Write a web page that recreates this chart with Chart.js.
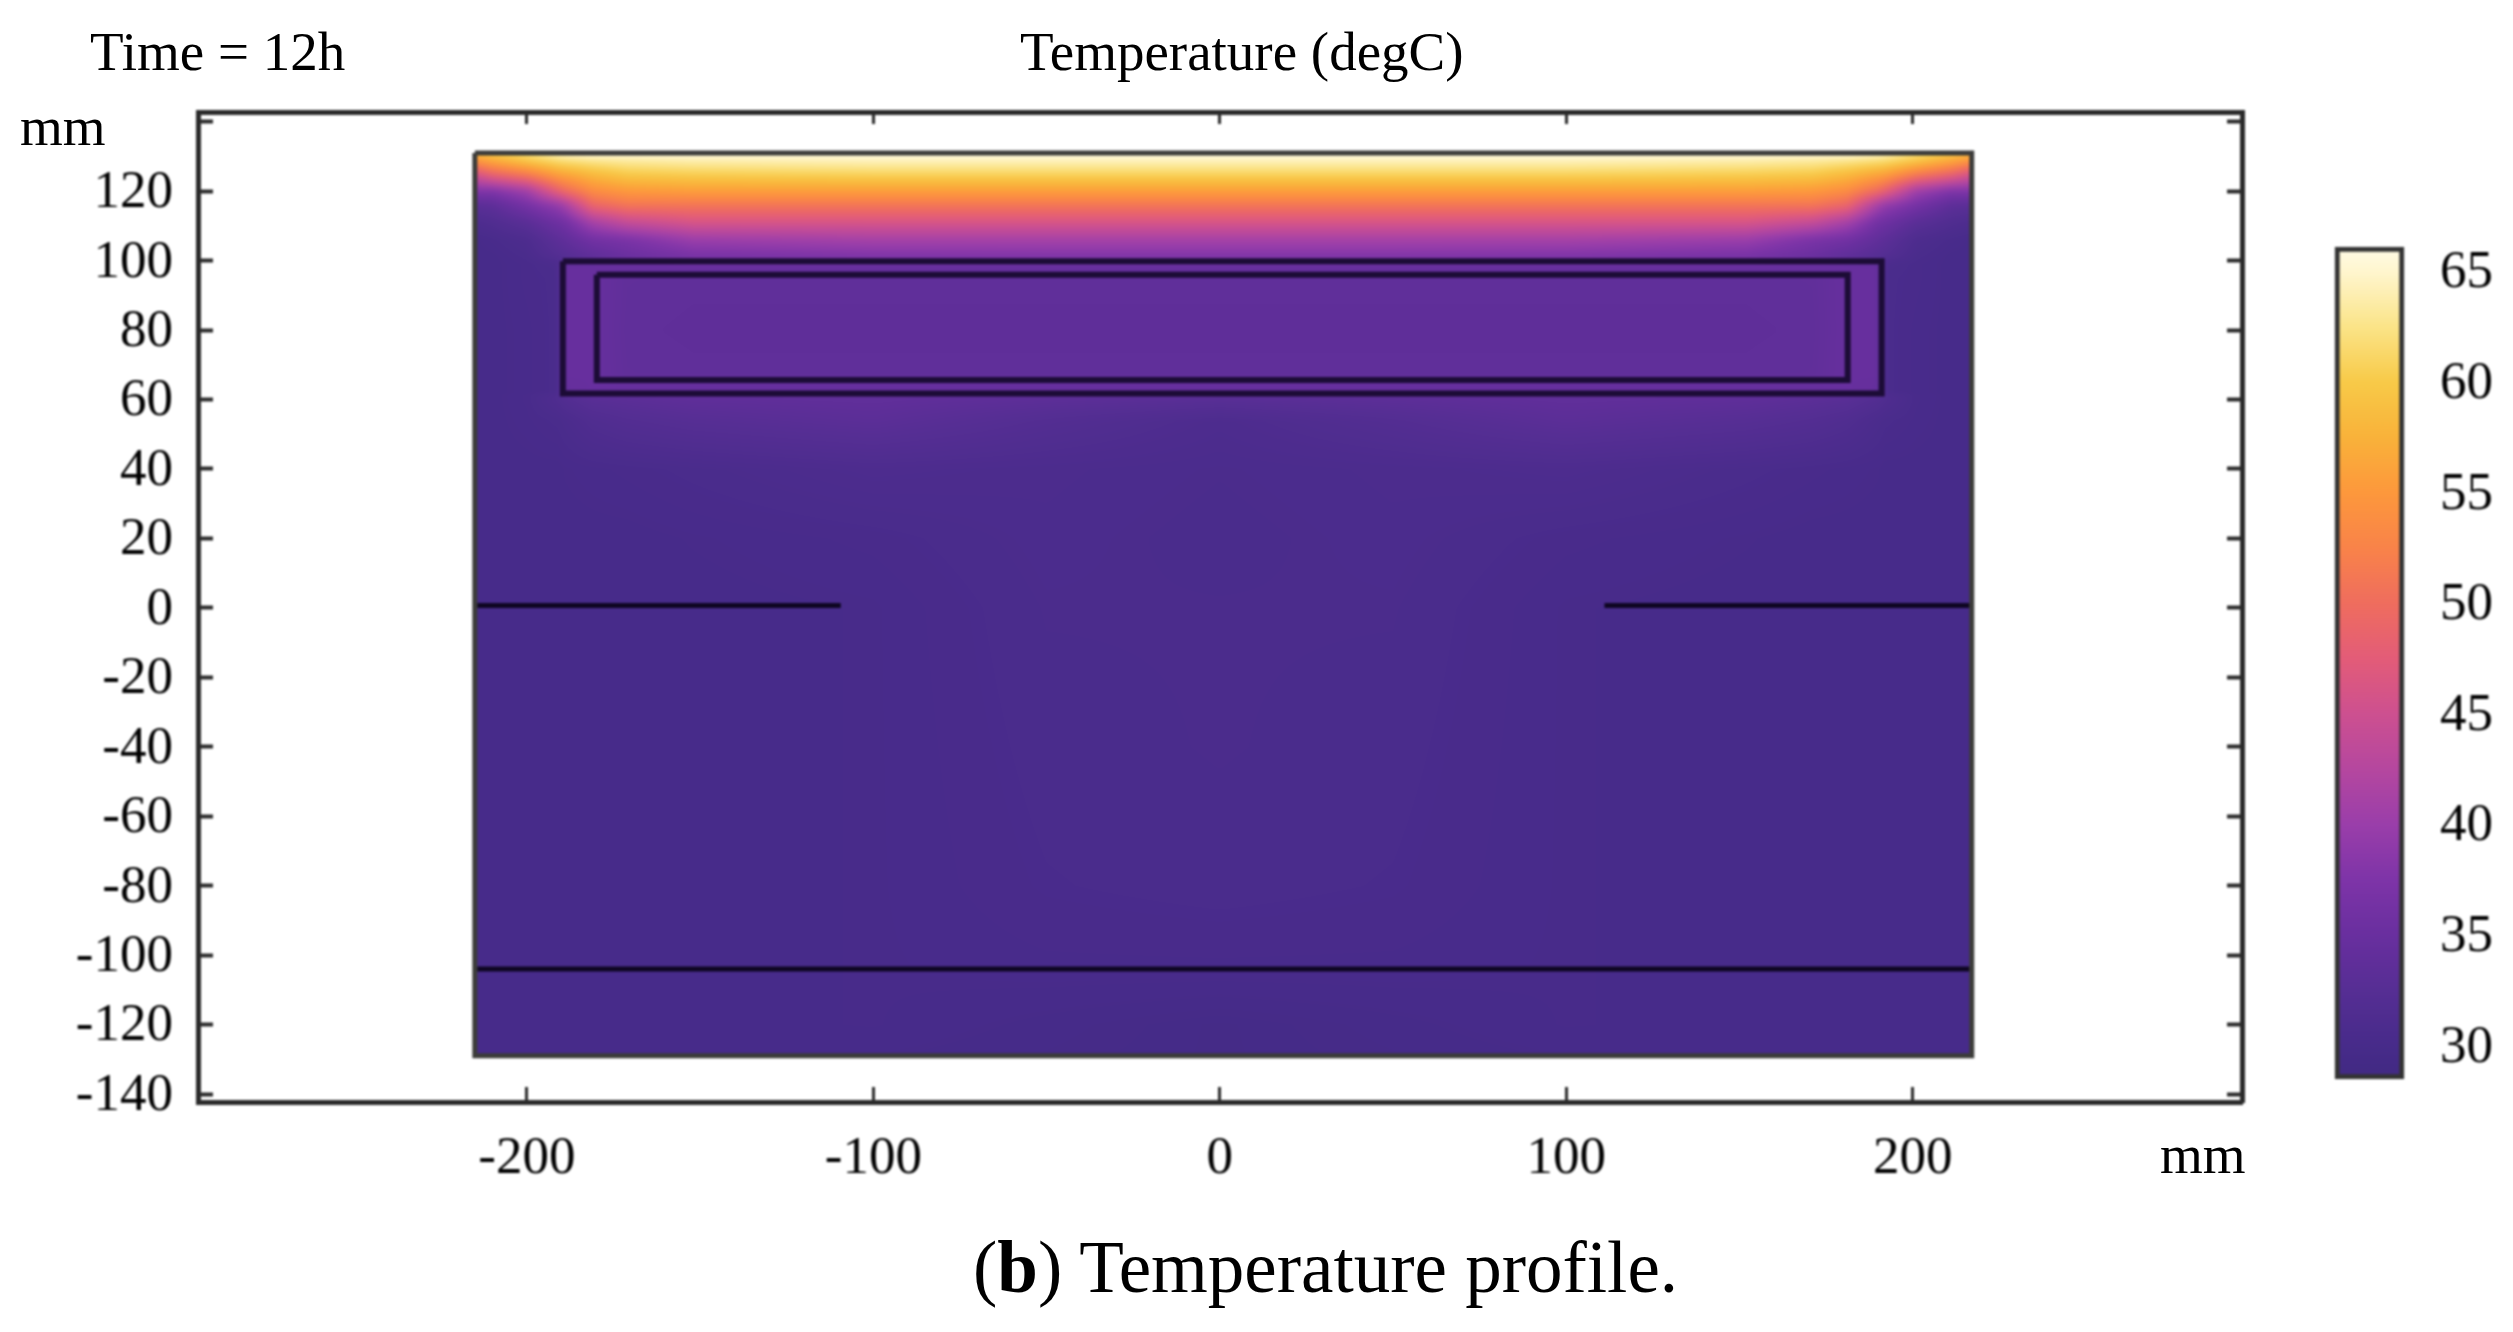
<!DOCTYPE html>
<html>
<head>
<meta charset="utf-8">
<title>Temperature profile</title>
<script src="https://cdn.jsdelivr.net/npm/chart.js@4"></script>
<style>
  html, body { margin: 0; background: #fff; }
  body { position: relative; width: 2513px; height: 1332px; overflow: hidden; font-family: "Liberation Serif", serif; color: #000; }
  canvas { position: absolute; filter: blur(0.9px); }
  #main { left: 0; top: 0; }
  #bar { left: 2300px; top: 200px; }
  .txt { position: absolute; white-space: nowrap; font-size: 55px; line-height: 60px; filter: blur(0.5px); }
</style>
</head>
<body>
<canvas id="main" width="2513" height="1332"></canvas>
<canvas id="bar" width="213" height="920"></canvas>
<div class="txt" style="left:90px;top:22px">Time = 12h</div>
<div class="txt" style="left:1020px;top:22px">Temperature (degC)</div>
<div class="txt" style="left:20px;top:97px">mm</div>
<div class="txt" style="left:2160px;top:1125px">mm</div>
<div class="txt" style="left:973px;top:1223px;font-size:73px;line-height:90px">(<b>b</b>) Temperature profile.</div>
<script>
// axis ticks (mm)
let xTicks = [-200, -100, 0, 100, 200]
let yTicks = [-140, -120, -100, -80, -60, -40, -20, 0, 20, 40, 60, 80, 100, 120, 140]
let barTicks = [30, 35, 40, 45, 50, 55, 60, 65]

// geometry lines, mm
let domainOutline = [{x:-215,y:131},{x:217,y:131},{x:217,y:-129},{x:-215,y:-129},{x:-215,y:131}]
let outerBox = [{x:-189.6,y:99.8},{x:191,y:99.8},{x:191,y:61.7},{x:-189.6,y:61.7},{x:-189.6,y:99.8}]
let innerBox = [{x:-179.8,y:95.9},{x:181.2,y:95.9},{x:181.2,y:65.6},{x:-179.8,y:65.6},{x:-179.8,y:95.9}]
let leftShelf = [{x:-215,y:0.7},{x:-109.4,y:0.7}]
let rightShelf = [{x:111,y:0.7},{x:217,y:0.7}]
let baseLine = [{x:-215,y:-104},{x:217,y:-104}]

// colour bar stops: degC, colour
let cmapValues = [28.5, 30, 32.5, 35, 37.5, 40, 42.5, 45, 47.5, 50, 52.5, 55, 57.5, 60, 62.5, 65, 66.1]
let cmapColors = ['#412a82','#472b8a','#562e94','#692f9f','#7e34a8','#9a3eaa','#b5479f','#cd5090','#e35c78','#ef6d5e','#f98349','#fd983c','#f9b23a','#f8ca48','#fbe488','#fff6cf','#fffbe6']

// temperature, degC. one row per gridY, one value per gridX
let gridX = [-215, -210, -200, -191, -189, -181, -171, -152, -100, -50, 0, 50, 100, 152, 171, 181, 190, 192, 201, 211, 217]
let gridY = [131, 129, 125, 120, 116, 111, 106, 101, 100, 99, 97, 95, 80, 67, 64, 62, 61, 54, 40, 20, 0, -40, -80, -105, -120, -129]
let tempRows = [
  [58, 60, 62, 64.5, 65, 66, 66, 66, 66, 66, 66, 66, 66, 66, 66, 66, 65, 64.5, 62, 60, 58],
  [55, 57, 60, 62, 62.3, 63, 63.5, 64, 64.5, 64.5, 64.5, 64.5, 64.5, 64, 63.5, 63, 62.3, 62, 60, 57, 55],
  [46, 49, 52, 56, 56.5, 58.5, 60, 60.5, 61, 61, 61, 61, 61, 60.5, 60, 58.5, 56.5, 56, 52, 49, 46],
  [37.5, 37.5, 40.5, 48, 49.5, 53.5, 55, 55.5, 55.5, 55.5, 55.5, 55.5, 55.5, 55.5, 55, 53.5, 49.5, 48, 40.5, 37.5, 37.5],
  [33, 33.5, 36.5, 39.5, 41, 49, 51, 51, 51, 51, 51, 51, 51, 51, 51, 49, 41, 39.5, 36.5, 33.5, 33],
  [31, 31.5, 33, 35.5, 36, 41, 44, 46, 46, 46, 46, 46, 46, 46, 44, 41, 36, 35.5, 33, 31.5, 31],
  [30, 30.3, 31, 33.3, 33.8, 36, 37, 40, 41, 41, 41, 41, 41, 40, 37, 36, 33.8, 33.3, 31, 30.3, 30],
  [30, 30, 30.5, 32, 32.3, 33.5, 35, 36.5, 37.3, 37.5, 37.5, 37.5, 37.3, 36.5, 35, 33.5, 32.3, 32, 30.5, 30, 30],
  [30, 30, 30.4, 31, 31.5, 33.5, 35, 36.5, 37, 37, 37, 37, 37, 36.5, 35, 33.5, 31.5, 31, 30.4, 30, 30],
  [30, 30, 30.3, 30.8, 34.7, 34.8, 34.8, 34.8, 34.8, 34.8, 34.8, 34.8, 34.8, 34.8, 34.8, 34.8, 34.7, 30.8, 30.3, 30, 30],
  [30, 30, 30.3, 30.6, 34.7, 34.8, 34.8, 34.8, 34.8, 34.8, 34.8, 34.8, 34.8, 34.8, 34.8, 34.8, 34.7, 30.6, 30.3, 30, 30],
  [30, 30, 30.3, 30.5, 34.7, 34.7, 33.9, 33.8, 33.8, 33.8, 33.8, 33.8, 33.8, 33.8, 33.9, 34.7, 34.7, 30.5, 30.3, 30, 30],
  [30, 30, 30.2, 30.5, 34.7, 34.7, 33.8, 33.7, 33.7, 33.7, 33.7, 33.7, 33.7, 33.7, 33.8, 34.7, 34.7, 30.5, 30.2, 30, 30],
  [30, 30, 30.2, 30.5, 34.7, 34.7, 33.9, 33.8, 33.8, 33.8, 33.8, 33.8, 33.8, 33.8, 33.9, 34.7, 34.7, 30.5, 30.2, 30, 30],
  [30, 30, 30.2, 30.5, 34.5, 34.7, 34.7, 34.7, 34.7, 34.7, 34.7, 34.7, 34.7, 34.7, 34.7, 34.7, 34.5, 30.5, 30.2, 30, 30],
  [30, 30, 30.2, 30.5, 34.5, 34.7, 34.7, 34.7, 34.7, 34.7, 34.7, 34.7, 34.7, 34.7, 34.7, 34.7, 34.5, 30.5, 30.2, 30, 30],
  [30, 30, 30.3, 31.5, 32, 33, 33.3, 33.8, 34, 33.5, 33, 33.5, 34, 33.8, 33.3, 33, 32, 31.5, 30.3, 30, 30],
  [30, 30, 30.2, 30.5, 30.7, 31.5, 32, 32.5, 33.2, 32, 31, 32, 33.2, 32.5, 32, 31.5, 30.7, 30.5, 30.2, 30, 30],
  [30, 30, 30, 30, 30.1, 30.2, 30.3, 30.5, 31, 30.8, 30.6, 30.8, 31, 30.5, 30.3, 30.2, 30.1, 30, 30, 30, 30],
  [30, 30, 30, 30, 30, 30, 30, 30.1, 30.3, 30.7, 30.5, 30.7, 30.3, 30.1, 30, 30, 30, 30, 30, 30, 30],
  [30, 30, 30, 30, 30, 30, 30, 30, 30.1, 30.6, 30.6, 30.6, 30.1, 30, 30, 30, 30, 30, 30, 30, 30],
  [30, 30, 30, 30, 30, 30, 30, 30, 30.1, 30.5, 30.6, 30.5, 30.1, 30, 30, 30, 30, 30, 30, 30, 30],
  [30, 30, 30, 30, 30, 30, 30, 30, 30.1, 30.4, 30.5, 30.4, 30.1, 30, 30, 30, 30, 30, 30, 30, 30],
  [30, 30, 30, 30, 30, 30, 30, 30, 30.1, 30.2, 30.2, 30.2, 30.1, 30, 30, 30, 30, 30, 30, 30, 30],
  [30, 30, 30, 30, 30, 30, 30, 30, 30.1, 29.8, 29.5, 29.8, 30.1, 30, 30, 30, 30, 30, 30, 30, 30],
  [30, 30, 30, 30, 30, 30, 30, 30, 29.9, 29.7, 29.5, 29.7, 29.9, 30, 30, 30, 30, 30, 30, 30, 30]
]

let cmapRgb = cmapColors.map(c => [parseInt(c.slice(1,3),16), parseInt(c.slice(3,5),16), parseInt(c.slice(5,7),16)])

function tempToRgb(t) {
  let i = 0
  while (i < cmapValues.length - 2 && t > cmapValues[i+1]) i++
  let f = Math.min(1, Math.max(0, (t - cmapValues[i]) / (cmapValues[i+1] - cmapValues[i])))
  return cmapRgb[i].map((c, k) => c + (cmapRgb[i+1][k] - c) * f)
}

// index of the grid cell holding v, list may run up or down
function cell(list, v) {
  let i = 0
  let sign = list[1] > list[0] ? 1 : -1
  while (i < list.length - 2 && sign * v > sign * list[i+1]) i++
  let f = (v - list[i]) / (list[i+1] - list[i])
  return [i, Math.min(1, Math.max(0, f))]
}

// paints the temperature field under the lines, through the chart scales.
// drawn a bit oversize then blurred, so the edge of the domain stays solid
let fieldPlugin = {
  id: 'field',
  beforeDatasetsDraw(chart) {
    let xs = chart.scales.x, ys = chart.scales.y, ctx = chart.ctx
    let margin = 12
    let x0 = Math.round(xs.getPixelForValue(gridX[0])), x1 = Math.round(xs.getPixelForValue(gridX[gridX.length-1]))
    let y0 = Math.round(ys.getPixelForValue(gridY[0])), y1 = Math.round(ys.getPixelForValue(gridY[gridY.length-1]))
    let w = x1 - x0 + margin * 2, h = y1 - y0 + margin * 2
    let off = document.createElement('canvas')
    off.width = w; off.height = h
    let octx = off.getContext('2d')
    let img = octx.createImageData(w, h)
    for (let py = 0; py < h; py++) {
      let [r, fy] = cell(gridY, ys.getValueForPixel(y0 - margin + py + 0.5))
      for (let px = 0; px < w; px++) {
        let [c, fx] = cell(gridX, xs.getValueForPixel(x0 - margin + px + 0.5))
        let top = tempRows[r][c] * (1 - fx) + tempRows[r][c+1] * fx
        let bot = tempRows[r+1][c] * (1 - fx) + tempRows[r+1][c+1] * fx
        let rgb = tempToRgb(top * (1 - fy) + bot * fy)
        let n = (py * w + px) * 4
        img.data[n] = rgb[0]; img.data[n+1] = rgb[1]; img.data[n+2] = rgb[2]; img.data[n+3] = 255
      }
    }
    octx.putImageData(img, 0, 0)
    ctx.save()
    ctx.beginPath()
    ctx.rect(x0, y0, x1 - x0, y1 - y0)
    ctx.clip()
    ctx.filter = 'blur(3px)'
    ctx.drawImage(off, x0 - margin, y0 - margin)
    ctx.restore()
  }
}

function lineSet(data, width, color) {
  return { data: data, showLine: true, borderColor: color, borderWidth: width, pointRadius: 0, tension: 0, fill: false, borderJoinStyle: 'miter' }
}

function axisOpts(pos, tickLen, tickW, labels) {
  return {
    position: pos,
    border: { display: true, color: '#2a2a2a', width: 5 },
    grid: { drawOnChartArea: false, drawTicks: true, tickLength: tickLen, tickWidth: tickW, tickColor: '#2a2a2a' },
    ticks: labels
  }
}

let tickFont = { family: 'Liberation Serif', size: 53 }
let noLabels = { display: false }
let xMin = -294.9, xMax = 295
let yMin = -142.3, yMax = 142.8

let xBottom = axisOpts('bottom', -15, 3, { font: tickFont, color: '#000', padding: 40, maxRotation: 0, autoSkip: false, callback: v => String(v) })
xBottom.min = xMin; xBottom.max = xMax
xBottom.afterBuildTicks = s => { s.ticks = xTicks.map(v => ({ value: v })) }
xBottom.afterFit = s => { s.height = 230 }

let xTop = axisOpts('top', -12, 3, noLabels)
xTop.min = xMin; xTop.max = xMax
xTop.afterBuildTicks = s => { s.ticks = xTicks.map(v => ({ value: v })) }
xTop.afterFit = s => { s.height = 0 }

let yLeft = axisOpts('left', -15, 4, { font: tickFont, color: '#000', padding: 40, labelOffset: 2, autoSkip: false, callback: v => v === 140 ? '' : String(v) })
yLeft.min = yMin; yLeft.max = yMax
yLeft.afterBuildTicks = s => { s.ticks = yTicks.map(v => ({ value: v })) }
yLeft.afterFit = s => { s.width = 198 }

let yRight = axisOpts('right', -15, 4, noLabels)
yRight.min = yMin; yRight.max = yMax
yRight.afterBuildTicks = s => { s.ticks = yTicks.map(v => ({ value: v })) }
yRight.afterFit = s => { s.width = 0 }

new Chart(document.getElementById('main'), {
  type: 'scatter',
  data: {
    datasets: [
      lineSet(domainOutline, 5, '#3c3c3a'),
      lineSet(outerBox, 6, '#1c0c36'),
      lineSet(innerBox, 6, '#1c0c36'),
      lineSet(leftShelf, 5, '#0e0622'),
      lineSet(rightShelf, 5, '#0e0622'),
      lineSet(baseLine, 5, '#0e0622')
    ]
  },
  options: {
    responsive: false,
    animation: false,
    devicePixelRatio: 1,
    layout: { padding: { top: 112, right: 271, bottom: 0, left: 0 } },
    plugins: { legend: { display: false }, tooltip: { enabled: false } },
    scales: { x: xBottom, y: yLeft, xTop: xTop, yRight: yRight }
  },
  plugins: [fieldPlugin]
})

// colour bar
function barGradient(ctx) {
  let area = ctx.chart.chartArea
  if (!area) return '#000'
  let ys = ctx.chart.scales.y
  let g = ctx.chart.ctx.createLinearGradient(0, area.bottom, 0, area.top)
  cmapValues.forEach((v, i) => {
    g.addColorStop((ys.getPixelForValue(v) - area.bottom) / (area.top - area.bottom), cmapColors[i])
  })
  return g
}

let barRight = axisOpts('right', -16, 4, { font: tickFont, color: '#000', padding: 52, labelOffset: 2, autoSkip: false, callback: v => String(v) })
barRight.border = { display: false }
barRight.min = cmapValues[0]; barRight.max = cmapValues[cmapValues.length-1]
barRight.afterBuildTicks = s => { s.ticks = barTicks.map(v => ({ value: v })) }
barRight.afterFit = s => { s.width = 109; s.paddingTop = 0; s.paddingBottom = 0 }

let barLeft = axisOpts('left', -16, 4, noLabels)
barLeft.border = { display: false }
barLeft.min = barRight.min; barLeft.max = barRight.max
barLeft.afterBuildTicks = s => { s.ticks = barTicks.map(v => ({ value: v })) }
barLeft.afterFit = s => { s.width = 0; s.paddingTop = 0; s.paddingBottom = 0 }

new Chart(document.getElementById('bar'), {
  type: 'bar',
  data: {
    labels: ['degC'],
    datasets: [{
      data: [[cmapValues[0], cmapValues[cmapValues.length-1]]],
      backgroundColor: barGradient,
      borderColor: '#333',
      borderWidth: 5,
      borderSkipped: false,
      barPercentage: 1,
      categoryPercentage: 1,
      clip: false,
      yAxisID: 'y'
    }]
  },
  options: {
    responsive: false,
    animation: false,
    devicePixelRatio: 1,
    layout: { padding: { top: 47, bottom: 41, left: 35, right: 0 } },
    plugins: { legend: { display: false }, tooltip: { enabled: false } },
    scales: {
      x: { display: false },
      y: barRight,
      yL: barLeft
    }
  }
})
</script>
</body>
</html>
